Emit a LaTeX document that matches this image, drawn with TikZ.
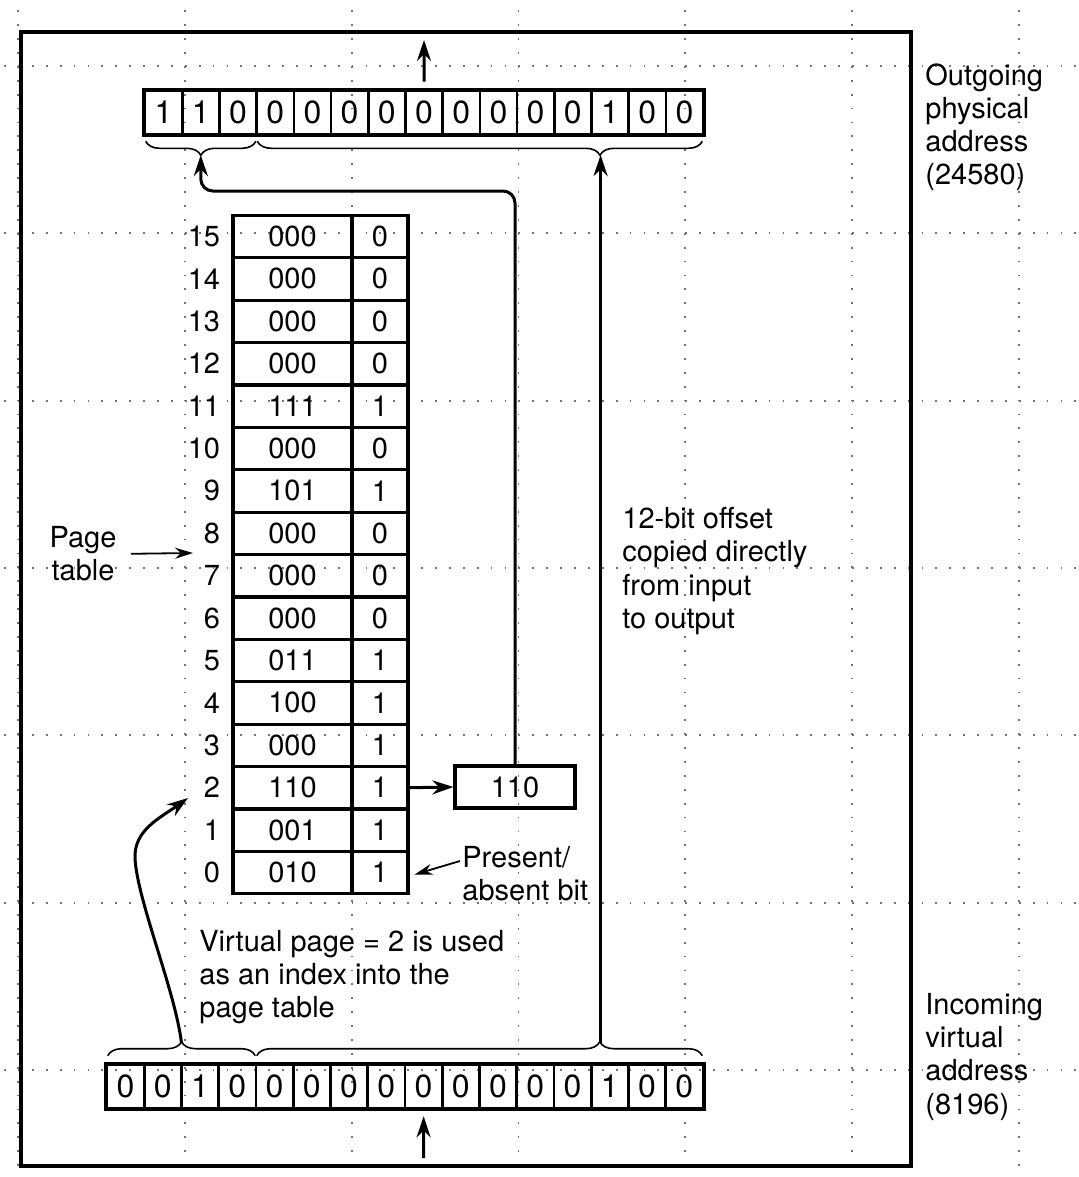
\documentclass[tikz,border=0pt]{standalone}
\usepackage{fontspec}
\setmainfont{TeX Gyre Heros}
\usetikzlibrary{arrows.meta,positioning,decorations.pathreplacing}

\begin{document}
\begin{tikzpicture}[x=0.5pt,y=0.5pt,
  txt/.style={font=\fontsize{14.5}{16.6}\selectfont},
  bitcell/.style={draw,line width=1.3pt,minimum width=18.6pt,minimum height=21.5pt,
                  inner sep=0pt,font=\fontsize{16}{18}\selectfont},
  pfcell/.style={draw,line width=1.6pt,minimum width=59.5pt,minimum height=21.2pt,
                 inner sep=0pt,txt},
  pbcell/.style={draw,line width=1.6pt,minimum width=28pt,minimum height=21.2pt,
                 inner sep=0pt,txt},
  rowlbl/.style={txt,inner sep=0pt},
  note/.style={txt,align=left,inner sep=0pt,anchor=north west},
  arr/.style={-{Stealth[length=10.5pt,width=7pt]},line width=1.5pt},
  thinarr/.style={-{Stealth[length=9pt,width=5.5pt]},line width=0.9pt},
  regframe/.style={line width=1.8pt},
  brc/.style={decorate,line width=0.8pt,decoration={brace,amplitude=7pt}},
  griddots/.style={black!55,line width=0.9pt,dash pattern=on 0.9pt off 6.05pt}
]
  \useasboundingbox (0,0) rectangle (1078,-1177);

  % ---- Dotted background grid ---------------------------------
  \foreach \gx in {18,184.8,351.6,518.4,685.2,852,1018.8}
    \draw[griddots] (\gx,3.5) -- (\gx,-1180);
  \foreach \gy in {66,233.3,400.6,568,735.3,902.6,1070}
    \draw[griddots] (-9.8,-\gy) -- (1090,-\gy);

  % ---- Outer frame ---------------------------------------------
  \draw[regframe] (21,-32) rectangle (911,-1166);

  % ---- Outgoing physical address (top register) ----------------
  \foreach \b [count=\i] in {1,1,0,0,0,0,0,0,0,0,0,0,1,0,0}
    \node[bitcell] (po\i) at ({145+37.2*\i-18.6},-112.5) {\b};
  \draw[regframe] (po1.north west) rectangle (po15.south east);

  \draw[brc,decoration={mirror}]
    ([xshift=1pt,yshift=-3pt]po1.south west) -- ([xshift=-1pt,yshift=-3pt]po3.south east);
  \draw[brc,decoration={mirror,aspect=0.77}]
    ([xshift=1pt,yshift=-3pt]po4.south west) -- ([xshift=-1pt,yshift=-3pt]po15.south east);
  \coordinate (ptip) at (200.8,-155);
  \coordinate (potip) at (600.6,-155);

  \coordinate (physout) at (424,-40);
  \draw[arr] ([yshift=4pt]po8.north) -- (physout);

  % ---- Incoming virtual address (bottom register) --------------
  \foreach \b [count=\i] in {0,0,1,0,0,0,0,0,0,0,0,0,0,1,0,0}
    \node[bitcell] (vi\i) at ({107+37.25*\i-18.625},-1086.5) {\b};
  \draw[regframe] (vi1.north west) rectangle (vi16.south east);

  \draw[brc] ([xshift=1pt,yshift=4pt]vi1.north west) -- ([xshift=-1pt,yshift=4pt]vi4.north east);
  \draw[brc,decoration={aspect=0.77}]
    ([xshift=1pt,yshift=4pt]vi5.north west) -- ([xshift=-1pt,yshift=4pt]vi16.north east);
  \coordinate (vbtip) at (181.5,-1043);
  \coordinate (votip) at (600.6,-1043);

  \coordinate (virtin) at (423.6,-1158);
  \draw[arr] (virtin) -- ([yshift=-3.5pt]vi9.south);

  % ---- Page table ----------------------------------------------
  \foreach \fr/\bt [count=\r from 0] in {010/1,001/1,110/1,000/1,100/1,011/1,
      000/0,000/0,000/0,101/1,000/0,111/1,000/0,000/0,000/0,000/0} {
    \node[pfcell] (pf\r) at (292.5,{-872.5+42.4*\r}) {\fr};
    \node[pbcell] (pb\r) at (380,{-872.5+42.4*\r}) {\bt};
    \node[rowlbl,left=5.5pt of pf\r] (pl\r) {\r};
  }

  \node[note,anchor=north,align=center] (ptlbl) at (83,-526) {Page\\table};
  \coordinate (ptend) at (193,-553);
  \draw[thinarr] ([xshift=7pt]ptlbl.east) -- (ptend);

  \node[note] (pabit) at (462,-846) {Present/\\absent bit};
  \draw[thinarr] ([shift={(-1pt,-7.5pt)}]pabit.north west) -- ([shift={(2.5pt,-1pt)}]pb0.east);

  % ---- Selected frame and its path to the output ---------------
  \node[pfcell,minimum width=60pt,minimum height=21pt] (pfout) at (515,-787) {110};
  \draw[arr] (pb2.east) -- (pfout.west);
  \draw[arr,rounded corners=6pt] (pfout.north) |- ([yshift=-18pt]ptip) -- (ptip);

  % offset copied straight through
  \draw[arr] (votip) -- (potip);

  % virtual page used as index
  \coordinate (idxend) at (188,-798);
  \draw[arr] (vbtip) .. controls (175,-990) and (137,-900) .. (135,-858)
    .. controls (134,-830) and (160,-818) .. (idxend);

  % ---- Notes ---------------------------------------------------
  \node[note] (outlbl) at (925,-63) {Outgoing\\physical\\address\\(24580)};
  \node[note] (inlbl) at (925,-993) {Incoming\\virtual\\address\\(8196)};
  \node[note] (offnote) at (622,-507) {12-bit offset\\copied directly\\from input\\to output};
  \node[note] (idxnote) at (199,-930) {Virtual page = 2 is used\\as an index into the\\page table};

\end{tikzpicture}
\end{document}
